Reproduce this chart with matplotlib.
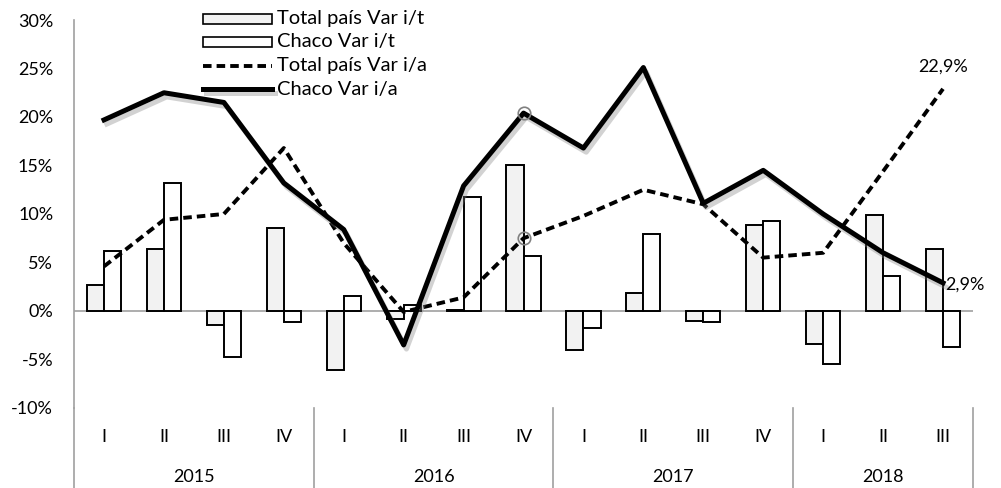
import matplotlib.pyplot as plt
import matplotlib.transforms as mtransforms
import matplotlib.patheffects as pe
from matplotlib.patches import Rectangle
import numpy as np

plt.rcParams['font.family'] = ['Lato', 'DejaVu Sans']

# Data
years = ['2015', '2016', '2017', '2018']
quarters = ['I', 'II', 'III', 'IV',
            'I', 'II', 'III', 'IV',
            'I', 'II', 'III', 'IV',
            'I', 'II', 'III']
total_it = [2.7, 6.4, -1.4, 8.6, -6.1, -0.8, 0.1, 15.1, -4.0, 1.9, -1.0, 8.9, -3.4, 9.9, 6.4]
chaco_it = [6.2, 13.2, -4.7, -1.1, 1.5, 0.6, 11.7, 5.7, -1.8, 7.9, -1.1, 9.3, -5.5, 3.6, -3.7]
total_ia = [4.6, 9.4, 10.0, 16.8, 7.0, -0.1, 1.4, 7.5, 9.8, 12.5, 11.0, 5.5, 6.0, 14.4, 22.9]
chaco_ia = [19.7, 22.5, 21.5, 13.2, 8.4, -3.5, 12.9, 20.4, 16.8, 25.1, 11.1, 14.5, 10.0, 6.0, 2.9]
year_sizes = [4, 4, 4, 3]
labels = ['Total país Var i/t', 'Chaco Var i/t', 'Total país Var i/a', 'Chaco Var i/a']

GRAY_FILL = '#F2F2F2'
AXIS_GRAY = '#A0A0A0'
DASH = (0, (2.2, 1.3))
SHADOW = [pe.SimpleLineShadow(offset=(2, -3), shadow_color='gray', alpha=0.35), pe.Normal()]

fig = plt.figure(figsize=(10.01, 4.88), dpi=100)
ax = fig.add_axes([0.074, 0.164, 0.898, 0.795])

x = np.arange(len(quarters))
w = 0.285

ax.bar(x - w / 2, total_it, width=w, color=GRAY_FILL, edgecolor='black', linewidth=1.4, zorder=2)
ax.bar(x + w / 2, chaco_it, width=w, color='white', edgecolor='black', linewidth=1.4, zorder=2)

ax.axhline(0, color=AXIS_GRAY, linewidth=1.2, zorder=1)

ax.plot(x, total_ia, color='black', linewidth=2.8, linestyle=DASH, zorder=3)
ax.plot(x, chaco_ia, color='black', linewidth=3.6, zorder=4, path_effects=SHADOW)

# highlighted points (2016 IV)
ax.plot([7, 7], [chaco_ia[7], total_ia[7]], linestyle='none', marker='o', markersize=9,
        markerfacecolor='none', markeredgecolor='#808080', markeredgewidth=1.2, zorder=5)

ax.text(14, total_ia[-1] + 2.3, '22,9%', ha='center', va='center', fontsize=13)
ax.text(14.03, chaco_ia[-1] - 0.2, '2,9%', ha='left', va='center', fontsize=13)

ax.set_xlim(-0.5, 14.5)
ax.set_ylim(-10, 30)
ax.set_yticks(range(-10, 31, 5))
ax.set_yticklabels([f'{v}%' for v in range(-10, 31, 5)], fontsize=13)
ax.tick_params(axis='y', length=0, pad=15)
ax.set_xticks([])
for s in ['top', 'right', 'bottom']:
    ax.spines[s].set_visible(False)
ax.spines['left'].set_color(AXIS_GRAY)
ax.spines['left'].set_linewidth(1.2)

# two-level category axis
trans = mtransforms.blended_transform_factory(ax.transData, ax.transAxes)
ax.plot([-0.5, -0.5], [-0.21, 0], color=AXIS_GRAY, linewidth=1.2, transform=trans, clip_on=False)
start = 0
for yr, n in zip(years, year_sizes):
    end = start + n
    ax.plot([end - 0.5, end - 0.5], [-0.21, 0], color=AXIS_GRAY, linewidth=1.2,
            transform=trans, clip_on=False)
    ax.text((start + end - 1) / 2, -0.178, yr, ha='center', va='center', fontsize=13, transform=trans)
    start = end
for i, q in enumerate(quarters):
    ax.text(i, -0.075, q, ha='center', va='center', fontsize=13, transform=trans)

# legend drawn in pixel space on an overlay
lg = fig.add_axes([0, 0, 1, 1], facecolor='none')
lg.set_xlim(0, 1001)
lg.set_ylim(488, 0)
lg.axis('off')
rows_y = [18.5, 42, 65.5, 89]
hx0, hx1, tx = 203, 272, 277
lg.add_patch(Rectangle((hx0, rows_y[0] - 5), hx1 - hx0, 10, facecolor=GRAY_FILL,
                       edgecolor='black', linewidth=1.2))
lg.add_patch(Rectangle((hx0, rows_y[1] - 5), hx1 - hx0, 10, facecolor='white',
                       edgecolor='black', linewidth=1.2))
lg.plot([hx0, hx1], [rows_y[2], rows_y[2]], color='black', linewidth=2.8, linestyle=DASH)
lg.plot([hx0, hx1], [rows_y[3], rows_y[3]], color='black', linewidth=3.6, path_effects=SHADOW)
for yy, lab in zip(rows_y, labels):
    lg.text(tx, yy, lab, ha='left', va='center', fontsize=14.5)

fig.savefig('out.png', dpi=100)
